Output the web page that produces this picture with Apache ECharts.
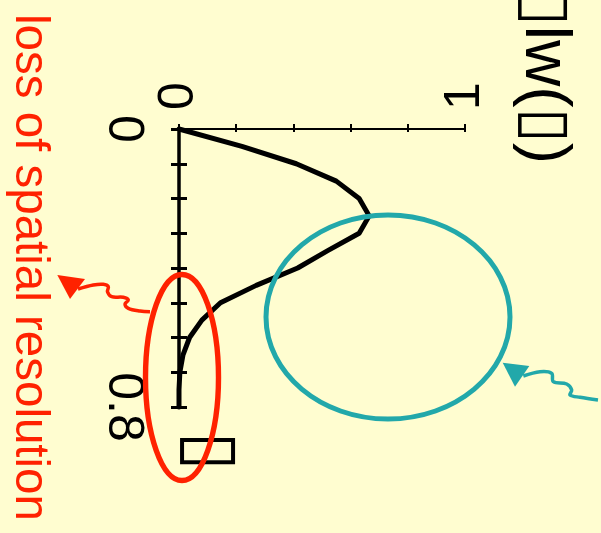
<!DOCTYPE html>
<html><head><meta charset="utf-8">
<script src="https://cdn.jsdelivr.net/npm/echarts@6/dist/echarts.min.js"></script>
<style>html,body{margin:0;padding:0;background:#fffdd0;} #c{width:601px;height:533px;}</style>
</head><body><div id="c"></div>
<script>
// data (chart drawn rotated 90° clockwise, as in the reference)
const thetaValues = [0, 0.05, 0.1, 0.15, 0.2, 0.25, 0.3, 0.35, 0.4, 0.45, 0.5, 0.55, 0.6, 0.65, 0.7, 0.75, 0.8];
const wValues     = [0, 0.22, 0.41, 0.55, 0.63, 0.665, 0.63, 0.52, 0.415, 0.27, 0.145, 0.08, 0.037, 0.014, 0.003, 0, 0];
const thetaTickLabels = ['0', '0.8'];
const wTickLabels = ['0', '1'];
const wAxisTitle = '▯lw(▯)';
const thetaAxisTitle = '▯';
const noteText = 'loss of spatial resolution';

const FONT = "'Liberation Sans', Arial, 'DejaVu Sans', sans-serif";
const RED = '#ff2200';
const CYAN = '#22a8aa';

function makeFormatter(list) {
  return function (v) {
    for (const s of list) { if (Math.abs(parseFloat(s) - v) < 1e-9) return s; }
    return '';
  };
}

const chart = echarts.init(document.getElementById('c'), null, {renderer: 'canvas'});
const option = {
  backgroundColor: '#fffdd0',
  animation: false,
  grid: {left: 179, top: 129, right: 136, bottom: 126, outerBoundsMode: 'none', containLabel: false},
  xAxis: [
    {type: 'value', position: 'top', min: 0, max: 1, interval: 0.2,
     axisLine: {onZero: false, lineStyle: {color: '#000', width: 2}},
     axisTick: {length: 5, lineStyle: {color: '#000', width: 2}},
     axisLabel: {rotate: -90, fontSize: 50, fontFamily: FONT, color: '#000', margin: 19, formatter: makeFormatter(wTickLabels)},
     splitLine: {show: false}},
    {type: 'value', position: 'top', min: 0, max: 1, interval: 0.2,
     axisLine: {show: false, onZero: false},
     axisTick: {inside: true, length: 3, lineStyle: {color: '#000', width: 2}},
     axisLabel: {show: false}, splitLine: {show: false}}
  ],
  yAxis: [
    {type: 'value', position: 'left', inverse: true, min: 0, max: 0.8, interval: 0.1,
     axisLine: {onZero: false, lineStyle: {color: '#000', width: 3.5}},
     axisTick: {length: 8, lineStyle: {color: '#000', width: 3}},
     axisLabel: {rotate: -90, fontSize: 50, fontFamily: FONT, color: '#000', margin: 31, formatter: makeFormatter(thetaTickLabels)},
     splitLine: {show: false}},
    {type: 'value', position: 'left', inverse: true, min: 0, max: 0.8, interval: 0.1,
     axisLine: {show: false, onZero: false},
     axisTick: {inside: true, length: 8, lineStyle: {color: '#000', width: 3}},
     axisLabel: {show: false}, splitLine: {show: false}}
  ],
  series: [{
    type: 'line', xAxisIndex: 0, yAxisIndex: 0,
    data: thetaValues.map((t, i) => [wValues[i], t]),
    showSymbol: false, symbol: 'none', clip: false,
    lineStyle: {color: '#000', width: 5, cap: 'round', join: 'round'},
    z: 3
  }],
  graphic: [
    {type: 'text', x: 29, y: 14, rotation: -Math.PI / 2, z: 20,
     style: {text: noteText, fontSize: 47.5, fontFamily: FONT, fill: RED, align: 'left', verticalAlign: 'middle'}},
    {type: 'text', x: 544, y: 164, rotation: -Math.PI / 2, z: 20,
     style: {text: wAxisTitle, fontSize: 64, fontFamily: FONT, fill: '#000', align: 'right', verticalAlign: 'middle'}},
    {type: 'text', x: 209, y: 451, rotation: -Math.PI / 2, z: 20,
     style: {text: thetaAxisTitle, fontSize: 72, fontFamily: FONT, fill: '#000', align: 'center', verticalAlign: 'middle'}},
    {type: 'ellipse', z: 20, shape: {cx: 388, cy: 317, rx: 122, ry: 102},
     style: {fill: 'none', stroke: CYAN, lineWidth: 5}},
    {type: 'ellipse', z: 20, shape: {cx: 182, cy: 377.5, rx: 36.5, ry: 103},
     style: {fill: 'none', stroke: RED, lineWidth: 5.4}},
    {type: 'polyline', z: 20, shape: {smooth: 0.35, points: [[150,311.7],[140,311],[128.3,308.3],[125,304],[128.3,300],[123.3,297.3],[111.7,296.7],[107.5,291.7],[108.3,286.7],[103.3,284.3],[93.3,285],[78,289]]},
     style: {fill: 'none', stroke: RED, lineWidth: 3.5}},
    {type: 'polygon', z: 20, shape: {points: [[57.3,275],[85,279],[70,299]]}, style: {fill: RED}},
    {type: 'polyline', z: 20, shape: {smooth: 0.35, points: [[523.3,376],[540,371.7],[551.7,373.3],[553.3,381.7],[566.7,384],[571.7,390],[570,395],[580,397.3],[598,400]]},
     style: {fill: 'none', stroke: CYAN, lineWidth: 3.5}},
    {type: 'polygon', z: 20, shape: {points: [[502.7,362.7],[529.3,366],[515,386.7]]}, style: {fill: CYAN}}
  ]
};
chart.setOption(option);
</script>
</body></html>
